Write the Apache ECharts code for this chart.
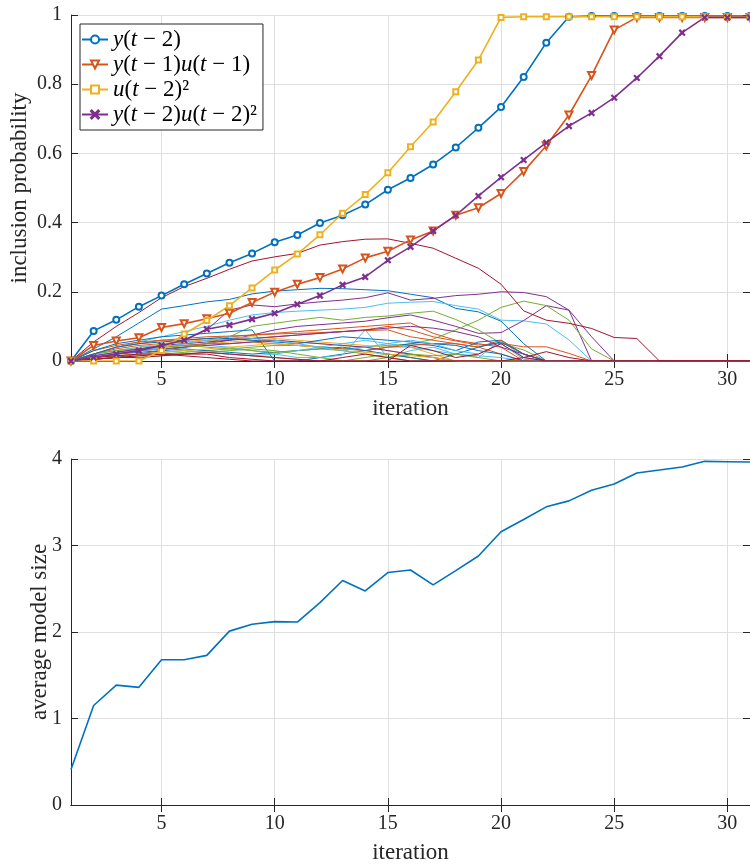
<!DOCTYPE html>
<html>
<head>
<meta charset="utf-8">
<script src="https://cdn.jsdelivr.net/npm/echarts@6/dist/echarts.min.js"></script>
<style>html,body{margin:0;padding:0;background:#fff}#c{width:750px;height:865px}</style>
</head>
<body>
<div id="c"></div>
<script>
var iterations = [1,2,3,4,5,6,7,8,9,10,11,12,13,14,15,16,17,18,19,20,21,22,23,24,25,26,27,28,29,30,31];
var xTicks = [5,10,15,20,25,30];
var probTicksMax = 1;
var sizeTicksMax = 4;

var seriesNames = ['y(t − 2)', 'y(t − 1)u(t − 1)', 'u(t − 2)²', 'y(t − 2)u(t − 2)²'];
var legendLabels = ['{i|y}({i|t} − 2)', '{i|y}({i|t} − 1){i|u}({i|t} − 1)', '{i|u}({i|t} − 2)²', '{i|y}({i|t} − 2){i|u}({i|t} − 2)²'];

var yLag2 = [0,0.087,0.119,0.157,0.189,0.222,0.253,0.284,0.311,0.343,0.364,0.399,0.421,0.452,0.495,0.529,0.568,0.617,0.674,0.734,0.821,0.920,0.995,0.997,0.997,0.997,0.997,0.997,0.997,0.997,0.997];
var yLag1uLag1 = [0,0.045,0.058,0.067,0.097,0.108,0.122,0.138,0.169,0.199,0.222,0.241,0.266,0.298,0.317,0.350,0.376,0.421,0.443,0.484,0.548,0.622,0.711,0.825,0.957,0.993,0.993,0.993,0.993,0.993,0.993];
var uLag2sq = [0,0,0,0,0.03,0.078,0.117,0.16,0.211,0.263,0.309,0.365,0.427,0.481,0.544,0.619,0.691,0.778,0.870,0.993,0.995,0.995,0.995,0.995,0.995,0.995,0.995,0.995,0.995,0.995,0.995];
var yLag2uLag2sq = [0,0.01,0.02,0.03,0.045,0.06,0.092,0.104,0.121,0.138,0.164,0.189,0.220,0.243,0.291,0.330,0.376,0.421,0.477,0.531,0.581,0.631,0.679,0.717,0.761,0.818,0.881,0.949,0.993,0.993,0.993];

var modelSize = [0.41,1.15,1.386,1.36,1.68,1.68,1.73,2.01,2.09,2.12,2.115,2.34,2.595,2.475,2.687,2.717,2.545,2.71,2.879,3.159,3.30,3.447,3.516,3.638,3.712,3.839,3.873,3.908,3.973,3.969,3.965];

var otherTerms = [
[0,0.035,0.07,0.11,0.15,0.16,0.171,0.178,0.194,0.202,0.206,0.21,0.209,0.206,0.203,0.193,0.183,0.152,0.142,0.115,0.05,0,0,0,0,0,0,0,0,0,0],
[0,0.02,0.04,0.055,0.07,0.085,0.1,0.118,0.133,0.14,0.144,0.147,0.15,0.155,0.167,0.17,0.172,0.16,0.15,0.118,0.116,0.107,0.061,0,0,0,0,0,0,0,0],
[0,0.01,0.02,0.03,0.045,0.06,0.09,0.147,0.162,0.157,0.165,0.171,0.176,0.183,0.197,0.176,0.181,0.189,0.193,0.2,0.198,0.186,0.147,0,0,0,0,0,0,0,0],
[0,0.005,0.01,0.02,0.03,0.04,0.05,0.06,0.075,0.09,0.1,0.105,0.11,0.115,0.125,0.133,0.118,0.1,0.08,0.082,0.117,0.16,0.147,0.07,0,0,0,0,0,0,0],
[0,0.005,0.01,0.015,0.02,0.025,0.03,0.035,0.04,0.045,0.045,0.04,0.035,0.04,0.045,0.049,0.063,0.09,0.118,0.155,0.173,0.16,0.118,0.035,0,0,0,0,0,0,0],
[0,0.01,0.02,0.03,0.035,0.04,0.051,0.07,0.1,0.109,0.118,0.126,0.118,0.126,0.13,0.138,0.144,0.12,0.09,0.051,0.032,0,0,0,0,0,0,0,0,0,0],
[0,0.02,0.035,0.045,0.05,0.055,0.06,0.062,0.065,0.07,0.075,0.08,0.085,0.09,0.1,0.09,0.07,0.058,0.046,0.051,0.041,0.041,0.022,0,0,0,0,0,0,0,0],
[0,0.03,0.045,0.055,0.06,0.06,0.065,0.07,0.075,0.08,0.085,0.09,0.095,0.1,0.105,0.11,0.08,0.06,0.05,0.04,0,0,0,0,0,0,0,0,0,0,0],
[0,0.03,0.05,0.06,0.07,0.075,0.08,0.085,0.09,0,0,0.01,0.02,0.03,0.04,0.05,0.045,0.03,0.055,0.06,0.02,0,0,0,0,0,0,0,0,0,0],
[0,0.02,0.03,0.04,0.05,0.055,0.06,0.065,0.07,0.065,0.06,0.055,0.05,0.045,0.04,0.04,0.02,0,0,0,0,0,0,0,0,0,0,0,0,0,0],
[0,0.01,0.02,0.03,0.04,0.045,0.05,0.055,0.06,0.06,0.055,0.05,0.045,0.04,0.03,0.02,0.01,0,0,0,0,0,0,0,0,0,0,0,0,0,0],
[0,0.01,0.015,0.02,0.025,0.03,0.025,0.02,0.015,0.01,0.005,0,0,0.01,0.02,0.01,0,0,0,0,0,0,0,0,0,0,0,0,0,0,0],
[0,0.02,0.03,0.04,0.045,0.05,0.045,0.04,0.03,0.02,0.01,0.01,0.017,0.09,0.01,0.03,0.04,0.02,0.01,0.06,0.01,0,0,0,0,0,0,0,0,0,0],
[0,0.015,0.025,0.035,0.04,0.045,0.05,0.05,0.055,0.05,0.045,0.04,0.035,0.03,0.04,0.045,0.05,0.05,0.04,0.06,0.02,0,0,0,0,0,0,0,0,0,0],
[0,0.01,0.02,0.025,0.03,0.035,0.03,0.025,0.02,0.025,0.03,0.035,0.04,0.03,0.02,0.01,0,0.02,0.04,0.055,0.02,0,0,0,0,0,0,0,0,0,0],
[0,0.01,0.02,0.03,0.035,0.04,0.045,0.05,0.055,0.06,0.055,0.05,0.045,0.04,0.03,0.02,0.01,0,0,0,0,0,0,0,0,0,0,0,0,0,0],
[0,0.02,0.03,0.035,0.04,0.045,0.04,0.035,0.03,0.025,0.03,0.035,0.03,0.02,0.01,0,0,0,0,0,0,0,0,0,0,0,0,0,0,0,0],
[0,0.015,0.025,0.03,0.035,0.03,0.025,0.02,0.015,0.02,0.03,0.04,0.05,0.06,0.05,0.04,0.03,0.02,0.015,0.01,0,0,0,0,0,0,0,0,0,0,0],
[0,0.02,0.04,0.05,0.06,0.065,0.07,0.072,0.075,0.078,0.08,0.082,0.085,0.088,0.09,0.07,0.06,0.05,0.04,0.02,0,0,0,0,0,0,0,0,0,0,0],
[0,0.01,0.015,0.02,0.025,0.03,0.035,0.04,0.045,0.05,0.045,0.04,0.03,0.025,0.02,0.015,0.01,0,0,0,0,0,0,0,0,0,0,0,0,0,0],
[0,0.02,0.04,0.05,0.055,0.06,0.065,0.065,0.06,0.055,0.05,0.06,0.07,0.065,0.06,0.055,0.05,0.045,0.03,0.02,0,0,0,0,0,0,0,0,0,0,0],
[0,0.015,0.025,0.035,0.045,0.05,0.055,0.06,0.065,0.07,0.075,0.08,0.085,0.09,0.095,0.1,0.095,0.085,0.07,0.04,0.02,0,0,0,0,0,0,0,0,0,0],
[0,0.005,0.01,0.01,0.015,0.02,0.025,0.03,0.035,0.03,0.02,0.01,0,0,0.01,0.02,0.015,0.02,0.01,0,0,0,0,0,0,0,0,0,0,0,0],
[0,0.01,0.02,0.03,0.04,0.05,0.06,0.07,0.065,0.06,0.05,0.04,0.03,0.04,0.05,0.06,0.05,0.03,0.02,0.05,0.005,0,0,0,0,0,0,0,0,0,0],
[0,0.005,0.01,0.015,0.02,0.02,0.025,0.02,0.015,0.01,0.005,0,0.01,0.02,0.01,0,0,0,0,0,0,0,0,0,0,0,0,0,0,0,0],
[0,0.01,0.015,0.02,0.02,0.015,0.01,0.005,0,0,0,0,0,0,0,0.045,0.03,0.01,0.02,0.05,0.01,0,0,0,0,0,0,0,0,0,0],
[0,0.005,0.01,0.01,0.015,0.02,0.02,0.01,0.005,0,0,0,0,0,0,0,0,0,0,0,0.01,0.027,0.01,0,0,0,0,0,0,0,0],
[0,0.055,0.10,0.14,0.183,0.215,0.239,0.265,0.289,0.301,0.311,0.335,0.345,0.352,0.353,0.340,0.326,0.297,0.268,0.222,0.145,0.118,0.109,0.094,0.068,0.065,0,0,0,0,0]
];

var C = {blue:'#0072BD', orange:'#D95319', yellow:'#EDB120', purple:'#7E2F8E', green:'#77AC30', lightblue:'#4DBEEE', darkred:'#A2142F'};
var otherColors = ['blue','lightblue','purple','purple','green','green','orange','orange','blue','yellow','yellow','green','lightblue','orange','blue','purple','green','lightblue','orange','yellow','blue','purple','green','lightblue','darkred','darkred','darkred','darkred'];

var FONT = 'Liberation Serif';
var AX = '#262626';
var GRIDC = '#dfdfdf';

function pairs(vals){ return iterations.map(function(x,i){ return [x, vals[i]]; }); }

var series = [];
otherTerms.forEach(function(vals, k){
  series.push({
    type:'line', xAxisIndex:0, yAxisIndex:0, data:pairs(vals), symbol:'none', silent:true,
    lineStyle:{width:1, color:C[otherColors[k]]}, itemStyle:{color:C[otherColors[k]]}, z:2
  });
});

var mainData = [yLag2, yLag1uLag1, uLag2sq, yLag2uLag2sq];
var mainColors = [C.blue, C.orange, C.yellow, C.purple];
var mainSymbols = ['emptyCircle', 'emptyTriangle', 'emptyRect', 'path://M0,1L1,0L5,4L9,0L10,1L6,5L10,9L9,10L5,6L1,10L0,9L4,5Z'];
var mainSizes = [6, 7, 5, 5];
var mainRotate = [0, 180, 0, 0];
mainData.forEach(function(vals, k){
  series.push({
    name: seriesNames[k], type:'line', xAxisIndex:0, yAxisIndex:0, data:pairs(vals),
    symbol: mainSymbols[k], symbolSize: mainSizes[k], symbolRotate: mainRotate[k], showAllSymbol:true,
    lineStyle:{width:1.6, color:mainColors[k]},
    itemStyle:{color:mainColors[k], borderColor:mainColors[k], borderWidth:1.5},
    z:5
  });
});

series.push({
  type:'line', xAxisIndex:2, yAxisIndex:1, data:pairs(modelSize), symbol:'none',
  lineStyle:{width:1.6, color:C.blue}, z:5
});

function xAxisBase(grid, pos, labels, name){
  return {
    type:'value', gridIndex:grid, position:pos, min:1, max:31,
    name: name || '', nameLocation:'middle', nameGap:36, nameMoveOverlap:false,
    nameTextStyle:{fontFamily:FONT, fontSize:23, color:AX},
    axisLine:{show:true, lineStyle:{color:AX, width:1}},
    axisTick:{show:true, inside:true, length:7, customValues:xTicks, lineStyle:{color:AX}},
    axisLabel:{show:labels, customValues:xTicks, margin:9, fontFamily:FONT, fontSize:20, color:AX},
    splitLine:{show:labels, lineStyle:{color:GRIDC, width:1}}
  };
}
function yAxisBase(grid, pos, max, labels, name, gap){
  return {
    type:'value', gridIndex:grid, position:pos, min:0, max:max, interval: max===1 ? 0.2 : 1,
    name: name || '', nameLocation:'middle', nameGap:gap || 40, nameMoveOverlap:false,
    nameTextStyle:{fontFamily:FONT, fontSize:23, color:AX},
    axisLine:{show:true, lineStyle:{color:AX, width:1}},
    axisTick:{show:true, inside:true, length:7, lineStyle:{color:AX}},
    axisLabel:{show:labels, margin:9, fontFamily:FONT, fontSize:20, color:AX,
      formatter:function(v){ return String(Math.round(v*10)/10); }},
    splitLine:{show:labels, lineStyle:{color:GRIDC, width:1}}
  };
}

var option = {
  animation:false,
  backgroundColor:'#ffffff',
  grid:[
    {left:71, top:15, width:684, height:346},
    {left:71, top:459, width:684, height:348}
  ],
  xAxis:[
    xAxisBase(0,'bottom',true,'iteration'),
    xAxisBase(0,'top',false),
    xAxisBase(1,'bottom',true,'iteration'),
    xAxisBase(1,'top',false)
  ],
  yAxis:[
    yAxisBase(0,'left',probTicksMax,true,'inclusion probability',40),
    yAxisBase(1,'left',sizeTicksMax,true,'average model size',20),
    yAxisBase(0,'right',probTicksMax,false),
    yAxisBase(1,'right',sizeTicksMax,false)
  ],
  legend:{
    data: seriesNames, orient:'vertical', left:80, top:24,
    itemWidth:26, itemHeight:10, itemGap:2,
    padding:[4,6,4,1],
    borderColor:AX, borderWidth:1, backgroundColor:'#ffffff',
    formatter:function(name){ return legendLabels[seriesNames.indexOf(name)]; },
    textStyle:{fontFamily:FONT, fontSize:23, color:'#000', rich:{i:{fontFamily:FONT, fontSize:23, fontStyle:'italic', color:'#000'}}}
  },
  series: series
};
var chart = echarts.init(document.getElementById('c'), null, {renderer:'canvas'});
chart.setOption(option);
</script>
</body>
</html>
